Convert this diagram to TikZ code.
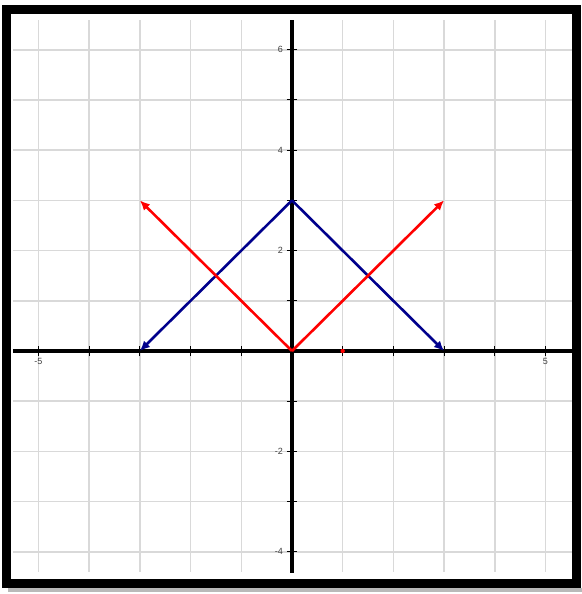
\documentclass[tikz,border=0pt]{standalone}
\usepackage{fontspec}
\setmainfont{Liberation Sans}
\usetikzlibrary{arrows.meta}
\begin{document}
\begin{tikzpicture}[x=50.7pt,y=50.2pt,
		gridline/.style={gray!30, line width=1.5pt},
		axisline/.style={black, line width=3.5pt},
		redvec/.style={red, line width=2.6pt, -{Latex[length=10pt,width=9pt]}},
		bluevec/.style={blue!55!black, line width=2.6pt, -{Latex[length=10pt,width=9pt]}},
		ticklabel/.style={text=gray!50!black, font=\fontsize{9}{9}\selectfont, inner sep=1pt}]
			\useasboundingbox (-5.759,-4.841) rectangle (5.720,6.992);
			% marco con sombra
			\fill[gray!55] (-5.602,-4.721) rectangle (5.720,-4.801);
			\draw[gridline, step=1] (-5.503,-4.402) grid (5.523,6.594);
			\draw[axisline] (-5.503,0) -- (5.523,0);
			\draw[axisline] (0,-4.42) -- (0,6.594);
			\foreach \k in {-5,...,5} \draw[line width=1pt] (\k,-0.1) -- (\k,0.1);
			\foreach \k in {-4,...,6} \draw[line width=1pt] (-0.1,\k) -- (0.1,\k);
			\foreach \k in {-4,-2,2,4,6} \node[ticklabel, left=8pt] at (0,\k) {\k};
			\node[ticklabel, below=6pt] at (-5,0) {-5};
			\node[ticklabel, below=6pt] at (5,0) {5};
			\coordinate (O) at (0,0);
			\coordinate (T) at (0,3);
			\coordinate (L) at (-3,0);
			\coordinate (R) at (3,0);
			\coordinate (LT) at (-3,3);
			\coordinate (RT) at (3,3);
			\draw[bluevec] (T) -- (L);
			\draw[bluevec] (T) -- (R);
			\draw[redvec] (O) -- (LT);
			\draw[redvec] (O) -- (RT);
			\fill[red] (1,0) circle (2.2pt);
			\draw[line width=9pt] (-5.631,-4.622) rectangle (5.621,6.803);
		\end{tikzpicture}
\end{document}
